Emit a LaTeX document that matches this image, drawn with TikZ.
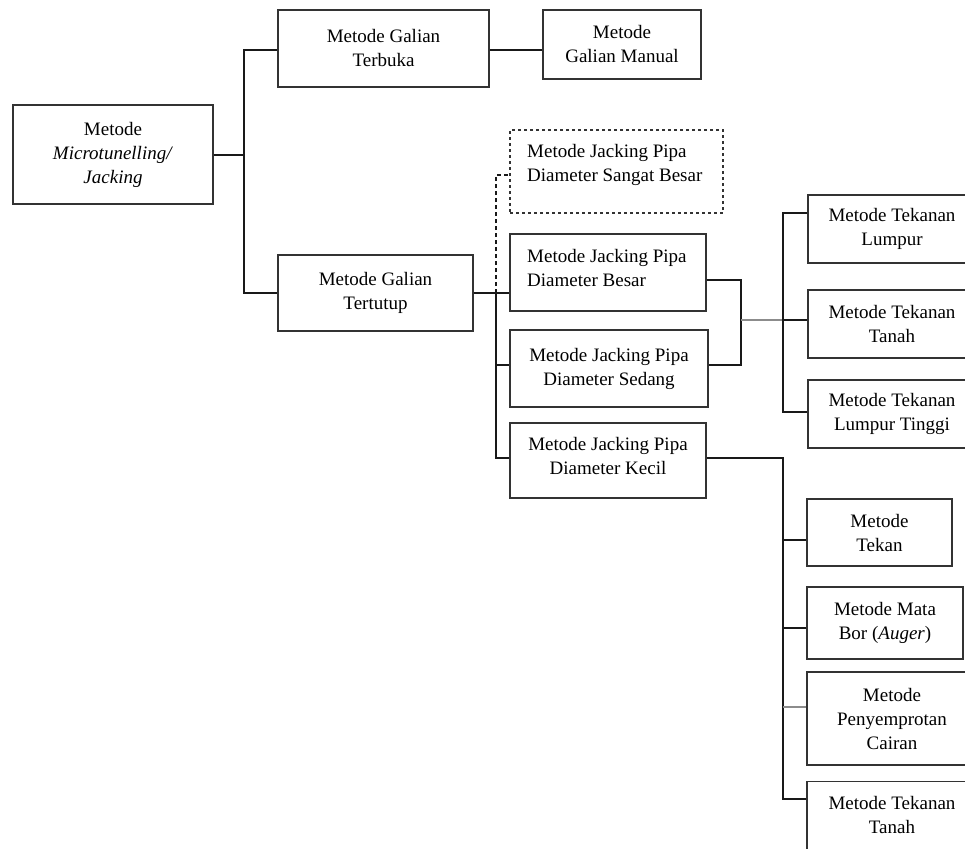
\documentclass[tikz,border=0pt]{standalone}
\usepackage{fontspec}
\setmainfont{Liberation Serif}
\begin{document}
\begin{tikzpicture}[x=1pt,y=-1pt,
  box/.style={draw=black!80, line width=1.4pt, rectangle, inner sep=0pt, align=center,
              font=\fontsize{19}{24}\selectfont},
  txt/.style={inner sep=0pt, align=left, font=\fontsize{19}{24}\selectfont},
  link/.style={draw=black!90, line width=1.6pt},
  glink/.style={draw=black!45, line width=1.6pt}]
\useasboundingbox (0,0) rectangle (965,848);
\clip (0,0) rectangle (965,848);
% boxes
\node[box, minimum width=200pt, minimum height=99pt] (root) at (113,154.5)
  {Metode\\\textit{Microtunelling/}\\\textit{Jacking}};
\node[box, minimum width=211pt, minimum height=77pt] (terbuka) at (383.5,48.5)
  {Metode Galian\\Terbuka};
\node[box, minimum width=158pt, minimum height=69pt] (manual) at (622,44.5)
  {Metode\\Galian Manual};
\node[box, minimum width=195pt, minimum height=76pt] (tertutup) at (375.5,293)
  {Metode Galian\\Tertutup};
\node[box, dashed, minimum width=213pt, minimum height=83pt] (sangat) at (616.5,171.5) {};
\node[txt, anchor=west] (sangatt) at (527,165) {Metode Jacking Pipa\\Diameter Sangat Besar};
\node[box, minimum width=196pt, minimum height=77pt] (besar) at (608,272.5) {};
\node[txt, anchor=west] (besart) at (527,268) {Metode Jacking Pipa\\Diameter Besar};
\node[box, minimum width=198pt, minimum height=77pt] (sedang) at (609,368.5)
  {Metode Jacking Pipa\\Diameter Sedang};
\node[box, minimum width=196pt, minimum height=75pt] (kecil) at (608,460.5) {};
\node[txt, anchor=center, align=center] (kecilt) at (608,456) {Metode Jacking Pipa\\Diameter Kecil};
\node[box, minimum width=168pt, minimum height=68pt] (lumpur) at (892,229)
  {Metode Tekanan\\Lumpur};
\node[box, minimum width=168pt, minimum height=68pt] (tanah) at (892,324)
  {Metode Tekanan\\Tanah};
\node[box, minimum width=168pt, minimum height=68pt] (tinggi) at (892,414)
  {Metode Tekanan\\Lumpur Tinggi};
\node[box, minimum width=145pt, minimum height=67pt] (tekan) at (879.5,532.5)
  {Metode\\Tekan};
\node[box, minimum width=156pt, minimum height=72pt] (matabor) at (885,623)
  {Metode Mata\\Bor (\textit{Auger})};
\node[box, minimum width=170pt, minimum height=93pt] (semprot) at (892,718.5)
  {Metode\\Penyemprotan\\Cairan};
\node[box, minimum width=170pt, minimum height=76pt, anchor=north] (bawah) at (892,781) {};
\node[txt, anchor=center, align=center] (bawaht) at (892,815) {Metode Tekanan\\Tanah};
% connectors level 1
\coordinate (j1) at (244,155);
\coordinate (j1t) at (244,50);
\draw[link] (root.east |- j1) -- (j1);
\draw[link] (j1t -| terbuka.west) -- (j1t) -- (j1) |- (tertutup.west);
\coordinate (m1) at (489,50);
\draw[link] (m1 -| terbuka.east) -- (m1 -| manual.west);
% tertutup bus
\coordinate (j2) at (496,293);
\draw[link] (tertutup.east) -- (j2) -- (j2 -| besar.west);
\draw[link] (j2) -- (496,458) coordinate (j2b) -- (j2b -| kecil.west);
\coordinate (j2s) at (496,365);
\draw[link] (j2s) -- (j2s -| sedang.west);
\coordinate (j2d) at (496,175);
\draw[link, line width=1.2pt, dash pattern=on 4pt off 3pt] (j2) -- (j2d) -- (j2d -| sangat.west);
% bracket besar/sedang
\coordinate (b1) at (741,280);
\coordinate (b2) at (741,365);
\coordinate (b3) at (741,320);
\draw[link] (b1 -| besar.east) -- (b1) -- (b2) -- (b2 -| sedang.east);
\coordinate (k0) at (783,320);
\draw[glink] (b3) -- (k0);
\coordinate (k1) at (783,213);
\coordinate (k3) at (783,412);
\draw[link] (k1 -| lumpur.west) -- (k1) -- (k3) -- (k3 -| tinggi.west);
\draw[link] (k0) -- (k0 -| tanah.west);
% kecil bus
\coordinate (c0) at (783,458);
\coordinate (c1) at (783,540);
\coordinate (c2) at (783,628);
\coordinate (c3) at (783,707);
\coordinate (c4) at (783,799);
\draw[link] (c0 -| kecil.east) -- (c0) -- (c4) -- (c4 -| bawah.west);
\draw[link] (c1) -- (c1 -| tekan.west);
\draw[link] (c2) -- (c2 -| matabor.west);
\draw[glink] (c3) -- (c3 -| semprot.west);
\end{tikzpicture}
\end{document}
